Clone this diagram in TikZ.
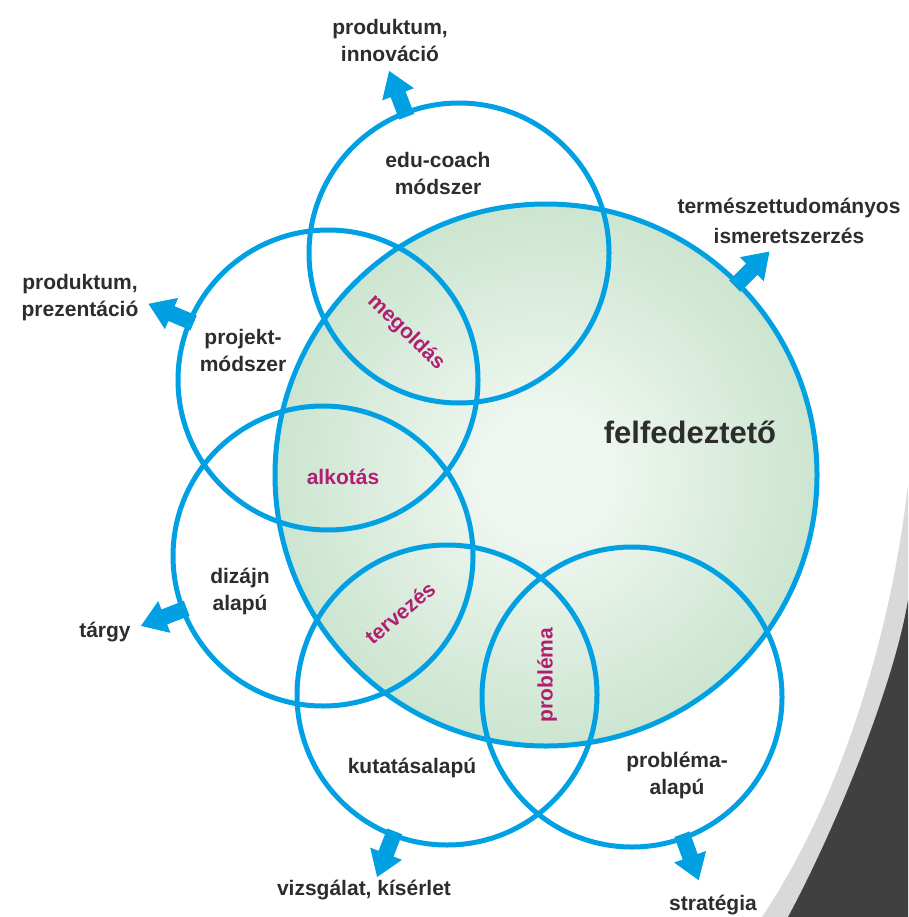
\documentclass[tikz,border=0pt]{standalone}
\usepackage{fontspec}
\setmainfont{Liberation Sans}
\usetikzlibrary{calc}
\definecolor{cblue}{RGB}{0,160,227}
\definecolor{txt}{RGB}{45,45,45}
\definecolor{mag}{RGB}{178,30,112}
\definecolor{gin}{RGB}{240,247,241}
\definecolor{gout}{RGB}{158,206,167}
\definecolor{band}{RGB}{217,217,217}
\definecolor{darkbg}{RGB}{64,64,64}
\pgfdeclareradialshading{greenball}{\pgfpoint{0bp}{0bp}}{color(0bp)=(gin); color(5bp)=(gin); color(50bp)=(gout); color(60bp)=(gout)}
\newcommand\barrow[3]{%
  \fill[cblue] ($(#1.center)+({#2}:{#3-4})+({#2+90}:8)$) -- ($(#1.center)+({#2}:{#3+20})+({#2+90}:8)$) -- ($(#1.center)+({#2}:{#3+20})+({#2+90}:17)$) -- ($(#1.center)+({#2}:{#3+45})$) -- ($(#1.center)+({#2}:{#3+20})+({#2-90}:17)$) -- ($(#1.center)+({#2}:{#3+20})+({#2-90}:8)$) -- ($(#1.center)+({#2}:{#3-4})+({#2-90}:8)$) -- cycle;}
\begin{document}
\begin{tikzpicture}[x=1pt,y=-1pt,
  ring/.style={circle, draw=cblue, line width=5pt, minimum size=300pt, inner sep=0pt},
  lbl/.style={font=\bfseries\fontsize{21}{27}\selectfont, text=txt, align=center, inner sep=0pt},
  mlbl/.style={font=\bfseries\fontsize{21}{24}\selectfont, text=mag, inner sep=0pt}]
\useasboundingbox (0,0) rectangle (908,917);
% background decoration
\fill[band] (908,485) .. controls (890,640) and (840,800) .. (762,917) -- (908,917) -- cycle;
\fill[darkbg] (908,600) .. controls (895,680) and (840,820) .. (788,917) -- (908,917) -- cycle;
% big circle
\node[circle, minimum size=542pt, inner sep=0pt, shading=greenball, draw=cblue, line width=5pt] (big) at (546,475) {};
% small circles
\node[ring] (edu) at (459,253) {};
\node[ring] (proj) at (328,380) {};
\node[ring] (diz) at (323,556) {};
\node[ring] (kut) at (447,695) {};
\node[ring] (prob) at (632,697) {};
% arrows
\barrow{edu}{-111}{150}
\barrow{proj}{-157}{150}
\barrow{diz}{159}{150}
\barrow{kut}{111}{150}
\barrow{prob}{70}{150}
\barrow{big}{-45}{271}
% labels in circles
\node[lbl] (tedu) at (438,173) {edu-coach\\módszer};
\node[lbl] (tproj) at (243,350) {projekt-\\módszer};
\node[lbl] (tdiz) at (240,591) {dizájn\\alapú};
\node[lbl] (tkut) at (412,768) {kutatásalapú};
\node[lbl] (tprob) at (677,775) {probléma-\\alapú};
\node[lbl, font=\bfseries\fontsize{31}{36}\selectfont] (tfel) at (690,432) {felfedeztető};
% outer labels
\node[lbl] (o1) at (390,40) {produktum,\\innováció};
\node[lbl, font=\bfseries\fontsize{21}{30}\selectfont] (o2) at (789,221) {természettudományos\\ismeretszerzés};
\node[lbl] (o3) at (80,298) {produktum,\\prezentáció};
\node[lbl] (o4) at (105,632) {tárgy};
\node[lbl] (o5) at (364,890) {vizsgálat, kísérlet};
\node[lbl] (o6) at (713,905) {stratégia};
% intersection labels
\node[mlbl, rotate=-44] (m1) at (406,333) {megoldás};
\node[mlbl] (m2) at (343,477) {alkotás};
\node[mlbl, rotate=40] (m3) at (400,613) {tervezés};
\node[mlbl, rotate=90] (m4) at (547,675) {probléma};
\end{tikzpicture}
\end{document}
